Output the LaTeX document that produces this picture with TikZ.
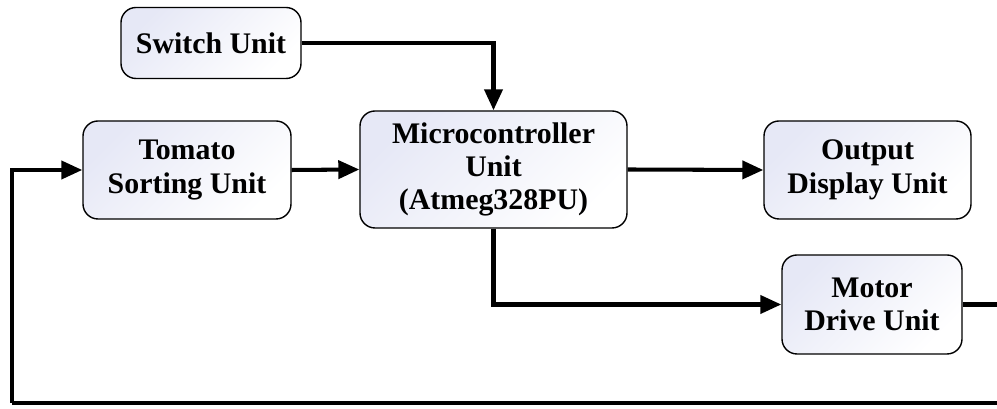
\documentclass[tikz,border=0pt]{standalone}
\usepackage{fontspec}
\setmainfont{Liberation Serif}
\usetikzlibrary{arrows.meta}

\definecolor{boxtint}{RGB}{230,232,246}

\tikzset{
    unitbox/.style={draw, line width=0.8pt, rounded corners=0.3cm, align=center,
        top color=boxtint, bottom color=white, shading angle=45,
        font=\fontsize{17}{19}\selectfont\bfseries, inner sep=0pt},
    flow/.style={line width=2.3pt, -{Triangle[length=0.42cm, width=0.36cm]}},
    wire/.style={line width=2.3pt}
}

\begin{document}
\begin{tikzpicture}

    % --- 1. Frame ---
    % Fixing the page to the size of the reference
    \useasboundingbox (0,0) rectangle (19.94,8.18);
    \clip (0,0) rectangle (19.94,8.18);

    % --- 2. Unit Blocks ---
    \node[unitbox, minimum width=3.6cm, minimum height=1.42cm] (sw) at (4.22,7.32) {Switch Unit};
    \node[unitbox, minimum width=4.16cm, minimum height=1.96cm] (tom) at (3.74,4.78) {Tomato\\Sorting Unit};
    \node[unitbox, minimum width=5.34cm, minimum height=2.34cm] (mcu) at (9.87,4.79) {Microcontroller\\Unit\\(Atmeg328PU)};
    \node[unitbox, minimum width=4.14cm, minimum height=1.96cm] (out) at (17.35,4.78) {Output\\Display Unit};
    \node[unitbox, minimum width=3.6cm, minimum height=1.98cm] (mot) at (17.44,2.09) {Motor\\Drive Unit};

    % --- 3. Feedback Corners ---
    % The loop leaves the picture on the right
    \coordinate (loopR) at (20.3,2.09);
    \coordinate (loopB) at (20.3,0.12);
    \coordinate (loopL) at (0.24,0.12);

    % --- 4. Connectors ---
    \draw[flow] (sw.east) -| (mcu.north);
    \draw[flow] (tom.east) -- (mcu.west);
    \draw[flow] (mcu.east) -- (out.west);
    \draw[flow] (mcu.south) |- (mot.west);
    \draw[wire] (mot.east) -- (loopR) -- (loopB) -- (loopL);
    \draw[flow] (loopL) |- (tom.west);

\end{tikzpicture}
\end{document}
